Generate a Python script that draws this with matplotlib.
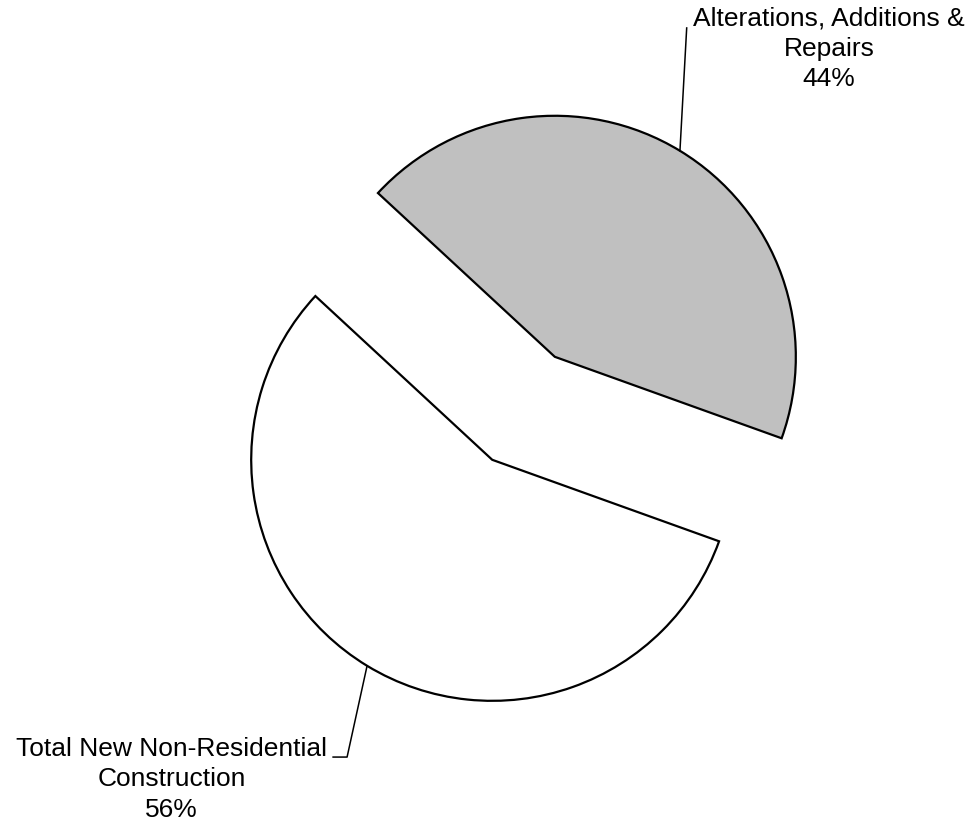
import numpy as np
import matplotlib
matplotlib.use("Agg")
import matplotlib.pyplot as plt

# share of construction value (percent)
categories = ["Total New Non-Residential\nConstruction", "Alterations, Additions &\nRepairs"]
shares = [56.4, 43.6]
colors = ["#FFFFFF", "#C0C0C0"]

plt.rcParams['font.family'] = ['Liberation Sans', 'DejaVu Sans']

fig = plt.figure(figsize=(9.74, 8.26), dpi=100)
ax = fig.add_axes([0, 0, 1, 1])

wedges, _ = ax.pie(shares, colors=colors, startangle=137.2, counterclock=True,
                   explode=[0.25, 0.25],
                   wedgeprops=dict(edgecolor="black", linewidth=1.6))

ax.set_xlim(-2.172, 1.869)
ax.set_ylim(-1.733, 1.694)
ax.set_aspect('equal')
ax.axis('off')

# label blocks and leader lines
text_pos = [(-1.461, -1.54), (1.268, 1.49)]
leader_end = [[(-0.732, -1.447), (-0.790, -1.447)], [(0.677, 1.578)]]

for w, cat, val, tp, le in zip(wedges, categories, shares, text_pos, leader_end):
    mid = np.deg2rad((w.theta1 + w.theta2) / 2)
    cx, cy = w.center
    start = (cx + w.r * np.cos(mid), cy + w.r * np.sin(mid))
    pts = [start] + le
    ax.plot([p[0] for p in pts], [p[1] for p in pts], color="black", lw=1.1)
    ax.text(tp[0], tp[1], f"{cat}\n{val:.0f}%", ha="center", va="center",
            fontsize=19, linespacing=1.33)

fig.savefig("out.png", dpi=100)
